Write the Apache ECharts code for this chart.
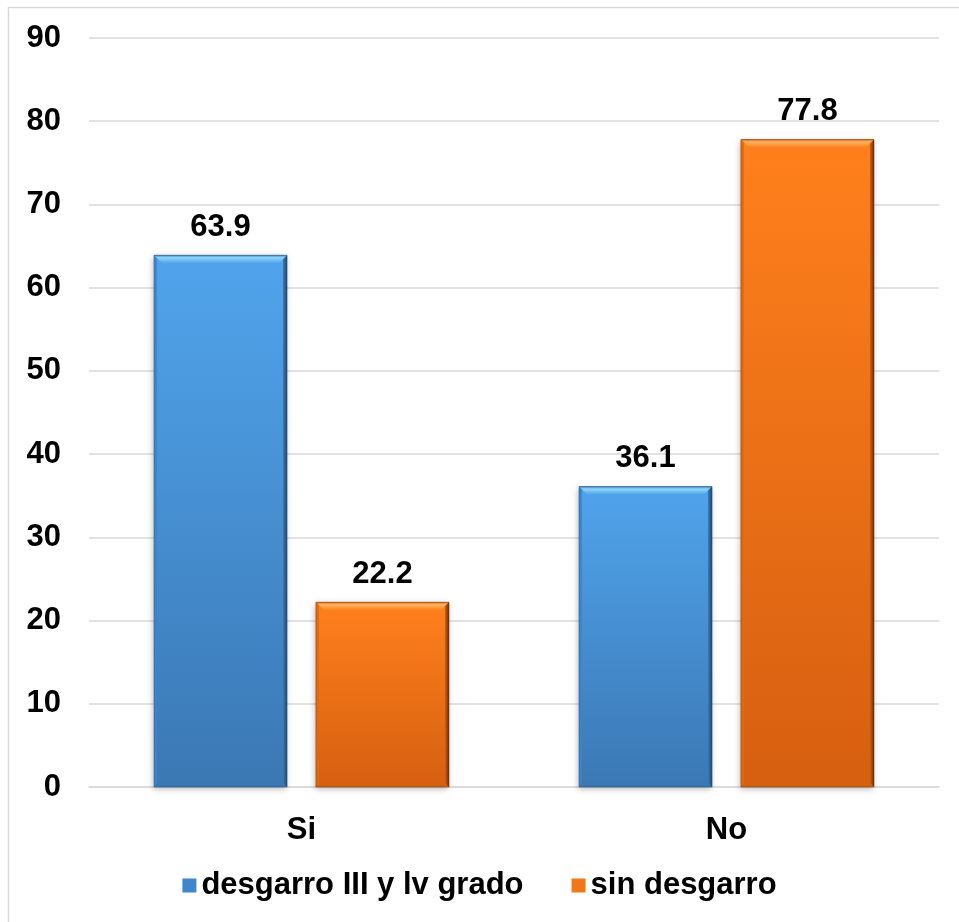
<!DOCTYPE html>
<html>
<head>
<meta charset="utf-8">
<style>
  html, body { margin: 0; padding: 0; background: #ffffff; }
  #chart { width: 959px; height: 922px; }
</style>
<script src="https://cdn.jsdelivr.net/npm/echarts@6/dist/echarts.min.js"></script>
</head>
<body>
<div id="chart"></div>
<script>
// Categories and series values
const categories = ['Si', 'No'];
const seriesNames = ['desgarro III y lv grado', 'sin desgarro'];
const desgarroValues = [63.9, 36.1];
const sinDesgarroValues = [22.2, 77.8];
const yTicks = [0, 10, 20, 30, 40, 50, 60, 70, 80, 90];

// Bevelled bar palettes
const palettes = [
  { top: '#50a4ec', bottom: '#3b78b4', light: '#8fd6fa', dark: '#1d4a73', edge: '#3f84c6', legend: '#3f86cc' },
  { top: '#ff801c', bottom: '#d65f10', light: '#ffb466', dark: '#6e2d00', edge: '#e06a12', legend: '#f07818' }
];

const FONT = '"Liberation Sans", Arial, sans-serif';
const FS = 31;

function makeRender(idx) {
  return function (params, api) {
    const cat = api.value(0);
    const val = api.value(1);
    const topPt = api.coord([cat, val]);
    const basePt = api.coord([cat, 0]);
    const band = api.size([1, 0])[0];
    const bw = band * 0.313;
    const gap = band * 0.068;
    const offset = (idx === 0 ? -1 : 1) * (bw + gap) / 2;
    const x = topPt[0] + offset - bw / 2;
    const y = topPt[1];
    const h = basePt[1] - topPt[1];
    const p = palettes[idx];
    const b = 8;
    return {
      type: 'group',
      children: [
        {
          type: 'rect',
          shape: { x: x, y: y, width: bw, height: h },
          style: {
            fill: new echarts.graphic.LinearGradient(0, 0, 0, 1, [
              { offset: 0, color: p.top },
              { offset: 1, color: p.bottom }
            ]),
            shadowBlur: 6,
            shadowColor: 'rgba(0,0,0,0.28)',
            shadowOffsetX: -1,
            shadowOffsetY: 2
          }
        },
        {
          // top bevel highlight
          type: 'polygon',
          shape: { points: [[x, y], [x + bw, y], [x + bw - b, y + b], [x + b, y + b]] },
          style: {
            fill: new echarts.graphic.LinearGradient(0, 0, 0, 1, [
              { offset: 0, color: p.edge },
              { offset: 0.3, color: p.light },
              { offset: 1, color: p.top }
            ])
          }
        },
        {
          // right bevel shade
          type: 'polygon',
          shape: { points: [[x + bw, y], [x + bw, y + h], [x + bw - 4, y + h - 4], [x + bw - 4, y + 4]] },
          style: {
            fill: new echarts.graphic.LinearGradient(1, 0, 0, 0, [
              { offset: 0, color: p.dark },
              { offset: 1, color: p.bottom }
            ])
          }
        },
        {
          // left bevel
          type: 'polygon',
          shape: { points: [[x, y], [x + 3, y + 3], [x + 3, y + h - 3], [x, y + h]] },
          style: { fill: p.edge, opacity: 0.9 }
        },
        {
          // bottom bevel
          type: 'polygon',
          shape: { points: [[x, y + h], [x + bw, y + h], [x + bw - 6, y + h - 6], [x + 6, y + h - 6]] },
          style: { fill: p.bottom, opacity: 0.85 }
        },
        {
          type: 'rect',
          shape: { x: x, y: y, width: bw, height: h },
          style: { fill: 'none', stroke: p.dark, lineWidth: 0.8, opacity: 0.6 }
        },
        {
          type: 'text',
          style: {
            text: val.toFixed(1),
            x: x + bw / 2,
            y: y - 28,
            align: 'center',
            verticalAlign: 'middle',
            fill: '#000000',
            font: 'bold ' + FS + 'px ' + FONT
          }
        }
      ]
    };
  };
}

const chart = echarts.init(document.getElementById('chart'), null, { renderer: 'canvas' });

chart.setOption({
  backgroundColor: '#ffffff',
  animation: false,
  graphic: [
    {
      type: 'rect',
      shape: { x: 8.5, y: 7.5, width: 970, height: 940 },
      style: { fill: 'none', stroke: '#d9d9d9', lineWidth: 1.5 },
      silent: true,
      z: 0
    }
  ],
  legend: {
    bottom: 16,
    left: 'center',
    itemWidth: 14,
    itemHeight: 14,
    itemGap: 48,
    icon: 'rect',
    textStyle: { fontFamily: FONT, fontWeight: 'bold', fontSize: FS, color: '#000000' },
    data: seriesNames.map((n, i) => ({ name: n, itemStyle: { color: palettes[i].legend } }))
  },
  grid: { left: 89, right: 20, top: 38, bottom: 135 },
  xAxis: {
    type: 'category',
    data: categories,
    axisLine: { lineStyle: { color: '#d9d9d9', width: 1.5 } },
    axisTick: { show: false },
    axisLabel: { fontFamily: FONT, fontWeight: 'bold', fontSize: FS, color: '#000000', margin: 28 }
  },
  yAxis: {
    type: 'value',
    min: yTicks[0],
    max: yTicks[yTicks.length - 1],
    interval: yTicks[1] - yTicks[0],
    axisLine: { show: false },
    axisTick: { show: false },
    splitLine: { lineStyle: { color: '#d9d9d9', width: 1.5 } },
    axisLabel: { fontFamily: FONT, fontWeight: 'bold', fontSize: FS, color: '#000000', margin: 28, padding: [3, 0, 0, 0] }
  },
  series: [
    {
      name: seriesNames[0],
      type: 'custom',
      renderItem: makeRender(0),
      itemStyle: { color: palettes[0].legend },
      encode: { x: 0, y: 1 },
      data: desgarroValues.map((v, i) => [i, v]),
      z: 3
    },
    {
      name: seriesNames[1],
      type: 'custom',
      renderItem: makeRender(1),
      itemStyle: { color: palettes[1].legend },
      encode: { x: 0, y: 1 },
      data: sinDesgarroValues.map((v, i) => [i, v]),
      z: 3
    }
  ]
});
</script>
</body>
</html>
